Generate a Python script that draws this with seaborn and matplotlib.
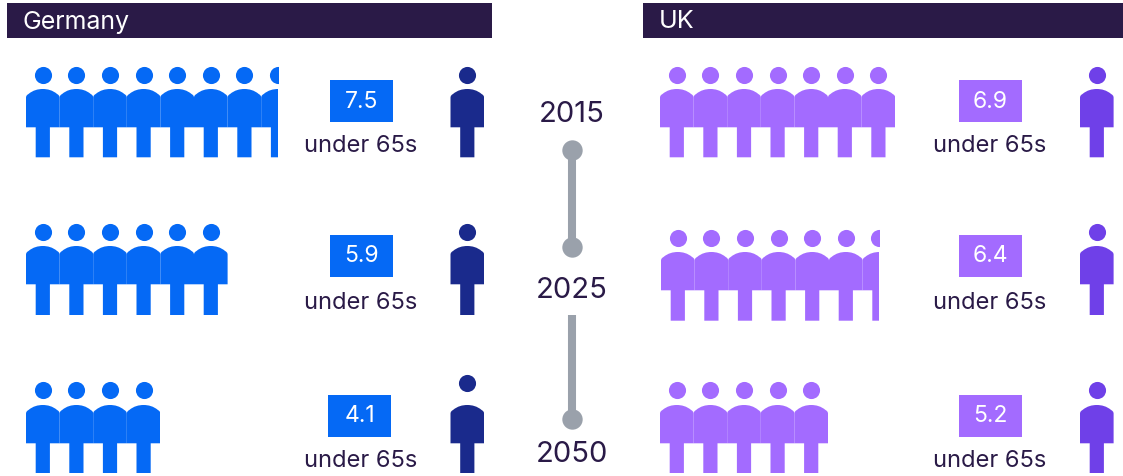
import matplotlib
matplotlib.use("Agg")
import matplotlib.pyplot as plt
import seaborn as sns
import pandas as pd
from matplotlib.patches import PathPatch, Rectangle
from matplotlib.path import Path

# values
years = ["2015", "2025", "2050"]
germany = [7.5, 5.9, 4.1]
uk = [6.9, 6.4, 5.2]
over_65 = [1, 1, 1]
row_label = "under 65s"
countries = ["Germany", "UK"]

navy = "#2a1a47"
grey = "#9aa1ab"
blue = "#0569f5"
dark_blue = "#1a2a8c"
purple = "#a36bff"
dark_purple = "#6f40e8"

W = 33.6    # person width
STEP = 33.6


def person_path(x, top, bottom):
    # body with a domed top + legs
    m = x + W / 2
    r = x + W
    leg = top + 38.3
    v = [(x, leg), (x, top + 9), (x, top + 6.5), (x + 1, top + 6), (x + 2.5, top + 5),
         (x + 7, top + 1.2), (x + 12, top), (m, top),
         (r - 12, top), (r - 7, top + 1.2), (r - 2.5, top + 5),
         (r - 1, top + 6), (r, top + 6.5), (r, top + 9), (r, leg),
         (m + 7.1, leg), (m + 7.1, bottom), (m - 7.1, bottom), (m - 7.1, leg), (x, leg)]
    c = [Path.MOVETO, Path.LINETO] + [Path.CURVE4] * 12 + [Path.LINETO] * 5 + [Path.CLOSEPOLY]
    return Path(v, c)


def people(ax, count, left, head_y, top, bottom, color):
    # count is rounded to the nearest half person, the last one gets cut
    shown = round(count * 2) / 2
    n = int(shown + 0.5)
    end = left + shown * STEP
    clip = Rectangle((left - 1, 0), end - left + 1, 476, transform=ax.transData)
    xs = [left + i * STEP for i in range(n)]
    for x in xs:
        p = PathPatch(person_path(x, top, bottom), fc=color, ec="none", lw=0)
        ax.add_patch(p)
        p.set_clip_path(clip)
    heads = pd.DataFrame({"x": [x + W / 2 for x in xs], "y": [head_y] * n})
    sns.scatterplot(data=heads, x="x", y="y", s=152, color=color, linewidth=0, ax=ax, legend=False, clip_on=True)
    ax.collections[-1].set_clip_path(clip)


sns.set_style("white")
plt.rcParams["font.family"] = ["Inter", "DejaVu Sans"]
fig, ax = plt.subplots(figsize=(11.23, 4.76), dpi=100)
ax.set_position([0, 0, 1, 1])
ax.set_xlim(0, 1123)
ax.set_ylim(476, 0)
ax.axis("off")

# header bands
for name, x0, x1 in zip(countries, [7, 643], [492, 1123]):
    ax.add_patch(Rectangle((x0, 3), x1 - x0, 35, fc=navy, ec="none"))
    ax.text(x0 + 16, 22, name, color="white", fontsize=18, va="center", ha="left")

# rows: head y, body top, leg bottom
g_rows = [(74.6, 89, 157.3), (232, 246, 315), (390, 405, 473)]
u_rows = [(74.6, 89, 157.3), (238, 252, 320.7), (390, 405, 473)]
g_single = [(74.6, 89, 157.3), (232, 246, 315), (383, 405, 473)]
u_single = [(74.6, 89, 157.3), (232, 246, 315), (390, 405, 473)]
g_box = [(330, 80), (330, 235), (328, 395)]
u_box = [(959, 80), (959, 235), (959, 395)]
label_y = [146, 303, 461]
left_uk = [660, 661, 660]

for i in range(3):
    people(ax, germany[i], 26, *g_rows[i], blue)
    people(ax, uk[i], left_uk[i], *u_rows[i], purple)
    people(ax, over_65[i], 450.5, *g_single[i], dark_blue)
    people(ax, over_65[i], 1080, *u_single[i], dark_purple)
    for vals, box, col, lab_x in [(germany, g_box, blue, 361), (uk, u_box, purple, 990)]:
        x, y = box[i]
        ax.add_patch(Rectangle((x, y), 63, 42, fc=col, ec="none"))
        ax.text(x + 31.5, y + 21.5, f"{vals[i]}", color="white", fontsize=16.5, ha="center", va="center")
        ax.text(lab_x, label_y[i], row_label, color=navy, fontsize=17, ha="center", va="center")

# timeline in the middle
tl = pd.DataFrame({"x": [572] * 4, "y": [150, 247, 315, 419], "seg": [0, 0, 1, 1]})
sns.lineplot(data=tl, x="x", y="y", units="seg", estimator=None, color=grey, lw=5.8, sort=False,
             solid_capstyle="butt", ax=ax, legend=False)
sns.scatterplot(x=[572, 572, 572], y=[150, 247, 419], s=215, color=grey, linewidth=0, ax=ax, legend=False)
for yr, y in zip(years, [114.5, 290.5, 454.5]):
    ax.text(572, y, yr, color=navy, fontsize=21, ha="center", va="center")

ax.set_xlim(0, 1123)
ax.set_ylim(476, 0)
ax.axis("off")
fig.savefig("out.png", dpi=100)
